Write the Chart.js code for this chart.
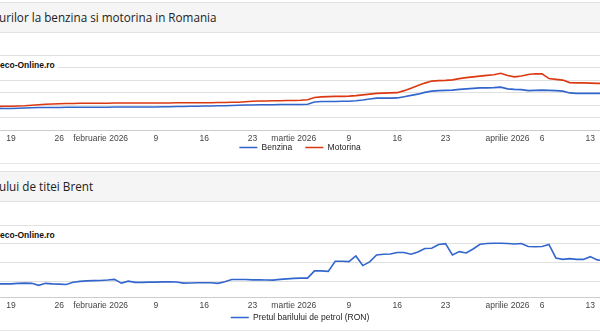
<!DOCTYPE html>
<html lang="ro">
<head>
<meta charset="UTF-8">
<title>Preturi carburanti si Brent</title>
<script src="https://cdn.jsdelivr.net/npm/chart.js@4"></script>
<style>
  body { margin:0; width:600px; height:334px; overflow:hidden; background:#fff; position:relative; }
  .band { position:absolute; left:0; width:600px; background:#f5f5f5; border-top:1px solid #e2e2e2; border-bottom:1px solid #e2e2e2; }
  .band span { position:absolute; left:-1px; font:11.7px "Open Sans", sans-serif; color:#222; white-space:nowrap; }
  .rule { position:absolute; left:0; width:600px; height:1px; background:#e6e6e6; z-index:3; }
  .wm { position:absolute; left:0; background:#fff; font:bold 8.5px "Liberation Sans", Arial, sans-serif; color:#111; white-space:nowrap; z-index:2; padding:0 3px 0 0; }
  canvas { position:absolute; left:0; }
</style>
</head>
<body>
<div class="band" style="top:2px;height:29px;"><span style="top:6px;">urilor la benzina si motorina in Romania</span></div>
<canvas id="fuel" width="600" height="145" style="top:33px;"></canvas>
<div class="wm" style="top:59px;height:12px;line-height:12px;">eco-Online.ro</div>
<div class="rule" style="top:163px;"></div>

<div class="band" style="top:171px;height:29px;"><span style="top:6px;">ului de titei Brent</span></div>
<canvas id="brent" width="600" height="146" style="top:202px;"></canvas>
<div class="wm" style="top:229px;height:12px;line-height:12px;">eco-Online.ro</div>
<div class="rule" style="top:330px;"></div>

<script>
// zilele afisate (zz.ll, 2026)
var dates = ['17.01','18.01','19.01','20.01','21.01','22.01','23.01','24.01','25.01','26.01','27.01','28.01','29.01','30.01','31.01',
  '01.02','02.02','03.02','04.02','05.02','06.02','07.02','08.02','09.02','10.02','11.02','12.02','13.02','14.02',
  '15.02','16.02','17.02','18.02','19.02','20.02','21.02','22.02','23.02','24.02','25.02','26.02','27.02','28.02',
  '01.03','02.03','03.03','04.03','05.03','06.03','07.03','08.03','09.03','10.03','11.03','12.03','13.03','14.03','15.03','16.03',
  '17.03','18.03','19.03','20.03','21.03','22.03','23.03','24.03','25.03','26.03','27.03','28.03','29.03','30.03','31.03',
  '01.04','02.04','03.04','04.04','05.04','06.04','07.04','08.04','09.04','10.04','11.04','12.04','13.04','14.04','15.04'];

var benzina = [7.87,7.87,7.87,7.88,7.89,7.90,7.91,7.91,7.91,7.91,7.92,7.92,7.92,
  7.92,7.92,7.92,7.92,7.93,7.93,7.93,7.93,7.93,7.93,
  7.93,7.94,7.94,7.95,7.95,7.96,7.96,7.97,7.97,7.98,
  7.98,7.99,8.00,8.01,8.01,8.02,8.02,8.02,8.03,8.03,
  8.03,8.03,8.04,8.13,8.15,8.15,8.15,8.16,8.16,8.18,
  8.21,8.25,8.28,8.28,8.28,8.29,8.34,8.39,8.44,8.51,
  8.56,8.58,8.59,8.60,8.63,8.65,8.67,8.69,8.69,8.70,
  8.72,8.65,8.63,8.62,8.58,8.59,8.60,8.59,8.58,8.56,
  8.49,8.47,8.47,8.47,8.47,8.47];

var motorina = [7.95,7.96,7.96,7.97,7.98,8.00,8.02,8.04,8.05,8.06,8.07,8.07,8.08,
  8.08,8.08,8.08,8.08,8.09,8.09,8.09,8.09,8.09,8.09,
  8.09,8.09,8.09,8.10,8.10,8.10,8.10,8.10,8.10,8.11,
  8.11,8.12,8.12,8.14,8.16,8.17,8.17,8.18,8.18,8.19,
  8.19,8.20,8.22,8.31,8.33,8.34,8.35,8.35,8.36,8.38,
  8.41,8.44,8.47,8.48,8.49,8.50,8.58,8.68,8.78,8.88,
  8.96,8.98,8.99,9.01,9.06,9.10,9.13,9.16,9.19,9.21,
  9.27,9.18,9.13,9.16,9.22,9.25,9.25,9.06,9.03,9.00,
  8.90,8.89,8.89,8.88,8.87,8.87];

var brent = [294.7,294.7,294.7,296.0,296.6,296.0,290.8,296.0,294.7,294.0,292.9,298.7,301.3,
  302.6,303.2,303.4,304.7,306.6,296.6,301.8,298.7,298.7,299.2,
  299.2,300.0,300.0,299.5,296.6,296.8,297.4,297.4,297.4,296.0,
  300.0,306.0,306.0,306.0,305.3,305.3,304.7,304.5,306.6,307.9,
  309.2,309.7,309.7,328.9,328.9,327.6,354.4,354.4,353.4,368.4,
  342.9,352.6,371.0,372.9,373.6,377.6,377.6,372.9,378.9,388.1,
  388.6,398.6,400.7,371.0,379.7,376.3,386.8,399.2,401.3,401.8,
  401.8,401.3,399.9,401.3,393.4,392.8,393.4,398.6,363.1,359.2,
  361.3,359.2,359.2,366.5,357.9,355.2];

// axa X: zile de la 19 ianuarie 2026
var tickDays = [0, 7, 13, 21, 28, 35, 41, 49, 56, 63, 72, 77, 84];
var tickLabels = ['19','26','februarie 2026','9','16','23','martie 2026','9','16','23','aprilie 2026','6','13'];
var fuelTicks = [7, 7.5, 8, 8.5, 9, 9.5, 10];
var brentTicks = [300, 350, 400, 450];

function dayOf(s) {
  var p = s.split('.');
  return (Date.UTC(2026, parseInt(p[1], 10) - 1, parseInt(p[0], 10)) - Date.UTC(2026, 0, 19)) / 86400000;
}
function points(values) {
  return values.map(function (v, i) { return { x: dayOf(dates[i]), y: v }; });
}

// legenda lipita de axa X, ca in graficul original
var legendUp = {
  id: 'legendUp',
  afterLayout: function (chart) {
    var l = chart.legend;
    var dy = l.top - chart.chartArea.bottom;
    l.top -= dy;
    l.bottom -= dy;
  }
};

var font = { family: '"Liberation Sans", Arial, sans-serif', size: 8.5 };

function makeOptions(yMin, yMax, yTicks, padTop, legendPad) {
  return {
    responsive: false,
    animation: false,
    layout: { padding: { top: padTop, left: 0, right: 0, bottom: 0 } },
    plugins: {
      tooltip: { enabled: false },
      legend: {
        position: 'bottom',
        labels: { usePointStyle: true, pointStyle: 'line', pointStyleWidth: 18, padding: legendPad, color: '#222', font: font }
      }
    },
    scales: {
      x: {
        type: 'linear', min: -1.6, max: 85.4,
        afterBuildTicks: function (scale) { scale.ticks = tickDays.map(function (v) { return { value: v }; }); },
        ticks: {
          autoSkip: false, maxRotation: 0, minRotation: 0, padding: 3, color: '#444', font: font,
          callback: function (value, index) { return tickLabels[index]; }
        },
        grid: { display: false, drawTicks: false },
        border: { display: true, color: '#cccccc' }
      },
      y: {
        min: yMin, max: yMax,
        afterBuildTicks: function (scale) { scale.ticks = yTicks.map(function (v) { return { value: v }; }); },
        afterFit: function (scale) { scale.width = 0; },
        ticks: { display: false },
        grid: { drawTicks: false, color: '#e0e0e0' },
        border: { display: false }
      }
    }
  };
}

new Chart(document.getElementById('fuel'), {
  type: 'line',
  data: {
    datasets: [
      { label: 'Benzina', data: points(benzina), borderColor: '#3366cc', backgroundColor: '#3366cc', borderWidth: 1.6, pointRadius: 0, tension: 0 },
      { label: 'Motorina', data: points(motorina), borderColor: '#dc3912', backgroundColor: '#dc3912', borderWidth: 1.6, pointRadius: 0, tension: 0 }
    ]
  },
  options: makeOptions(7, 10, fuelTicks, 22, 13),
  plugins: [legendUp]
});

new Chart(document.getElementById('brent'), {
  type: 'line',
  data: {
    datasets: [
      { label: 'Pretul barilului de petrol (RON)', data: points(brent), borderColor: '#3366cc', backgroundColor: '#3366cc', borderWidth: 1.6, pointRadius: 0, tension: 0 }
    ]
  },
  options: makeOptions(259.2, 450, brentTicks, 23, 16),
  plugins: [legendUp]
});
</script>
</body>
</html>
